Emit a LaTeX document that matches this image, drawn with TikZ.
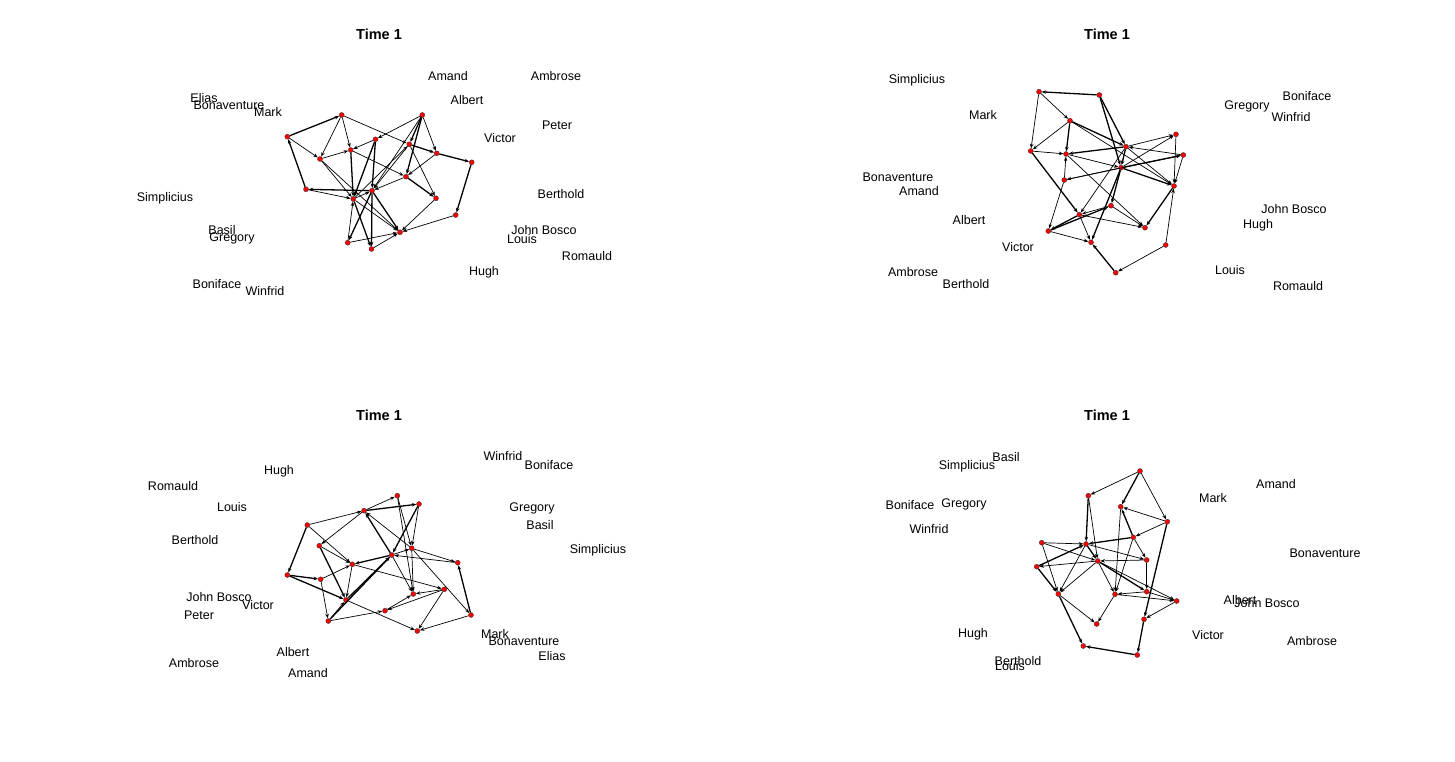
\documentclass[tikz,border=0pt]{standalone}
\usepackage{fontspec}
\setmainfont{Liberation Sans}
\usetikzlibrary{arrows.meta}
\tikzset{
  vtx/.style={circle,fill=red,draw=black!80,line width=0.35pt,inner sep=0pt,minimum size=5pt},
  edge/.style={line width=0.7pt,-{Stealth[length=4.5pt,width=3.5pt]}},
  tedge/.style={line width=1.3pt,-{Stealth[length=4.5pt,width=3.5pt]}},
  lbl/.style={font=\fontsize{12.5}{14}\selectfont,inner sep=0pt},
  ttl/.style={font=\fontsize{14.5}{16}\selectfont\bfseries,inner sep=0pt}
}
\begin{document}
\begin{tikzpicture}[x=1pt,y=-1pt]
\useasboundingbox (0,0) rectangle (1455,762);
\fill[white] (0,0) rectangle (1455,762);
% ---------------- Panel 1 ----------------
\node[ttl] (t1) at (379,34) {Time 1};
\foreach \n/\x/\y in {a/341.7/115, b/422.3/115, c/287.3/136.7, d/375.5/139.3, e/350.7/150, f/409.3/144.3, g/436.7/153.3, h/471.7/162.3, i/320/159, j/406/176.7, k/306/189.3, l/372/190.7, m/353.3/199, n/436/198.3, o/455.7/215, p/400/232.3, q/347.7/242.7, r/371.5/249}
  \node[vtx] (p1\n) at (\x,\y) {};
\foreach \u/\v in {a/i, a/e, a/f, c/i, i/e, i/m, i/p, d/e, b/d, e/j, b/g, b/l, f/l, f/n, m/f, g/j, j/l, k/m, m/l, m/p, q/m, n/p, o/p, q/p, r/p}
  \draw[edge] (p1\u) -- (p1\v);
\foreach \u/\v in {c/a, d/l, d/m, e/m, b/f, b/j, f/g, g/h, h/o, j/n, l/k, l/p, l/r, l/q, m/r, k/c}
  \draw[tedge] (p1\u) -- (p1\v);
\node[lbl] (l1a) at (448,76) {Amand};
\node[lbl] (l1b) at (556,76) {Ambrose};
\node[lbl] (l1c) at (467,100) {Albert};
\node[lbl] (l1d) at (557,125) {Peter};
\node[lbl] (l1e) at (500,138) {Victor};
\node[lbl] (l1f) at (561,194) {Berthold};
\node[lbl] (l1g) at (544,230) {John Bosco};
\node[lbl] (l1h) at (522,239) {Louis};
\node[lbl] (l1i) at (587,256) {Romauld};
\node[lbl] (l1j) at (484,272) {Hugh};
\node[lbl] (l1k) at (217,284) {Boniface};
\node[lbl] (l1l) at (265,291) {Winfrid};
\node[lbl] (l1m) at (222,230) {Basil};
\node[lbl] (l1n) at (232,238) {Gregory};
\node[lbl] (l1o) at (165,198) {Simplicius};
\node[lbl] (l1p) at (204,98) {Elias};
\node[lbl] (l1q) at (229,105) {Bonaventure};
\node[lbl] (l1r) at (268,112) {Mark};
% ---------------- Panel 2 ----------------
\node[ttl] (t2) at (1107,34) {Time 1};
\foreach \n/\x/\y in {a/1039/91.7, b/1099.3/95, c/1070/120.7, d/1176/134.3, e/1126/146.7, f/1030.7/151, g/1066/154, h/1183.3/155, i/1121/167.7, j/1064.3/180, k/1174/186, l/1111/205.7, m/1079.3/214.7, n/1145/227.7, o/1048.3/231, p/1091/242.3, q/1165.7/245, r/1115.7/272.7}
  \node[vtx] (p2\n) at (\x,\y) {};
\foreach \u/\v in {a/c, c/f, a/f, f/g, j/g, g/n, j/h, j/o, e/d, h/e, e/k, e/m, i/d, i/j, d/k, h/k, q/k, l/m, l/n, m/n, m/p, o/p, q/r, c/k, g/i}
  \draw[edge] (p2\u) -- (p2\v);
\foreach \u/\v in {b/a, b/e, b/i, c/g, c/e, f/m, e/g, e/i, i/h, i/k, i/p, i/l, k/n, m/o, o/l, r/p}
  \draw[tedge] (p2\u) -- (p2\v);
\node[lbl] (l2a) at (917,80) {Simplicius};
\node[lbl] (l2b) at (983,115) {Mark};
\node[lbl] (l2c) at (1247,106) {Gregory};
\node[lbl] (l2d) at (1307,96) {Boniface};
\node[lbl] (l2e) at (1291,117) {Winfrid};
\node[lbl] (l2f) at (898,177) {Bonaventure};
\node[lbl] (l2g) at (919,191) {Amand};
\node[lbl] (l2h) at (969,220) {Albert};
\node[lbl] (l2i) at (1018,247) {Victor};
\node[lbl] (l2j) at (1294,209) {John Bosco};
\node[lbl] (l2k) at (1258,225) {Hugh};
\node[lbl] (l2l) at (913,272) {Ambrose};
\node[lbl] (l2m) at (966,284) {Berthold};
\node[lbl] (l2n) at (1230,270) {Louis};
\node[lbl] (l2o) at (1298,286) {Romauld};
% ---------------- Panel 3 ----------------
\node[ttl] (t3) at (379,415) {Time 1};
\foreach \n/\x/\y in {A/397.3/495.7, B/419/504, C/364/510.7, D/307.3/525, E/319.3/545.7, F/411.7/548.3, G/391.7/555, H/352.3/564.3, I/457.7/562.7, J/287.3/575, K/320.7/579.3, L/444.3/589.3, M/413.3/594, N/346/600, O/385/610.7, P/471/615, Q/328.3/621, R/417.3/631}
  \node[vtx] (p3\n) at (\x,\y) {};
\foreach \u/\v in {C/A, C/E, F/C, A/F, A/M, B/F, D/H, E/H, G/F, G/M, F/I, F/M, F/P, H/N, H/L, K/Q, K/H, Q/N, N/R, O/M, L/M, L/O, L/R, P/R, I/G, Q/O, D/C}
  \draw[edge] (p3\u) -- (p3\v);
\foreach \u/\v in {C/B, G/C, B/G, D/J, E/N, G/H, N/G, J/K, J/N, Q/G, P/I}
  \draw[tedge] (p3\u) -- (p3\v);
\node[lbl] (l3a) at (503,456) {Winfrid};
\node[lbl] (l3b) at (549,465) {Boniface};
\node[lbl] (l3c) at (279,471) {Hugh};
\node[lbl] (l3d) at (173,486) {Romauld};
\node[lbl] (l3e) at (232,507) {Louis};
\node[lbl] (l3f) at (532,508) {Gregory};
\node[lbl] (l3g) at (540,525) {Basil};
\node[lbl] (l3h) at (195,540) {Berthold};
\node[lbl] (l3i) at (598,550) {Simplicius};
\node[lbl] (l3j) at (219,597) {John Bosco};
\node[lbl] (l3k) at (199,615) {Peter};
\node[lbl] (l3l) at (258,605) {Victor};
\node[lbl] (l3m) at (495,634) {Mark};
\node[lbl] (l3n) at (524,641) {Bonaventure};
\node[lbl] (l3o) at (552,656) {Elias};
\node[lbl] (l3p) at (293,652) {Albert};
\node[lbl] (l3q) at (194,663) {Ambrose};
\node[lbl] (l3r) at (308,673) {Amand};
% ---------------- Panel 4 ----------------
\node[ttl] (t4) at (1107,415) {Time 1};
\foreach \n/\x/\y in {a/1140/471, b/1088.3/495.7, c/1120.7/506.7, d/1167.3/521.7, e/1133.3/537.3, f/1041.7/542.7, g/1086/544, h/1146.7/560, i/1097.7/561, j/1036.7/566.7, k/1058.3/594, l/1146.7/591.7, m/1115/594.3, n/1176.7/601, o/1144/619.3, p/1096.7/624, q/1083.3/646, r/1137.3/655}
  \node[vtx] (p4\n) at (\x,\y) {};
\foreach \u/\v in {a/b, a/d, b/i, d/c, c/m, d/e, e/m, f/g, f/i, f/k, g/h, g/k, h/l, i/j, i/k, i/n, i/m, h/i, k/p, l/n, l/m, m/p, m/n, n/o, e/h}
  \draw[edge] (p4\u) -- (p4\v);
\foreach \u/\v in {a/c, b/g, e/c, d/o, e/g, j/g, g/i, i/l, k/q, o/r, r/q, j/k}
  \draw[tedge] (p4\u) -- (p4\v);
\node[lbl] (l4a) at (1006,457) {Basil};
\node[lbl] (l4b) at (967,466) {Simplicius};
\node[lbl] (l4c) at (910,505) {Boniface};
\node[lbl] (l4d) at (964,504) {Gregory};
\node[lbl] (l4e) at (929,529) {Winfrid};
\node[lbl] (l4f) at (1213,498) {Mark};
\node[lbl] (l4g) at (1276,484) {Amand};
\node[lbl] (l4h) at (1325,553) {Bonaventure};
\node[lbl] (l4i) at (1240,600) {Albert};
\node[lbl] (l4j) at (1267,603) {John Bosco};
\node[lbl] (l4k) at (1208,635) {Victor};
\node[lbl] (l4l) at (1312,641) {Ambrose};
\node[lbl] (l4m) at (973,634) {Hugh};
\node[lbl] (l4n) at (1018,661) {Berthold};
\node[lbl] (l4o) at (1010,666) {Louis};
\end{tikzpicture}
\end{document}
